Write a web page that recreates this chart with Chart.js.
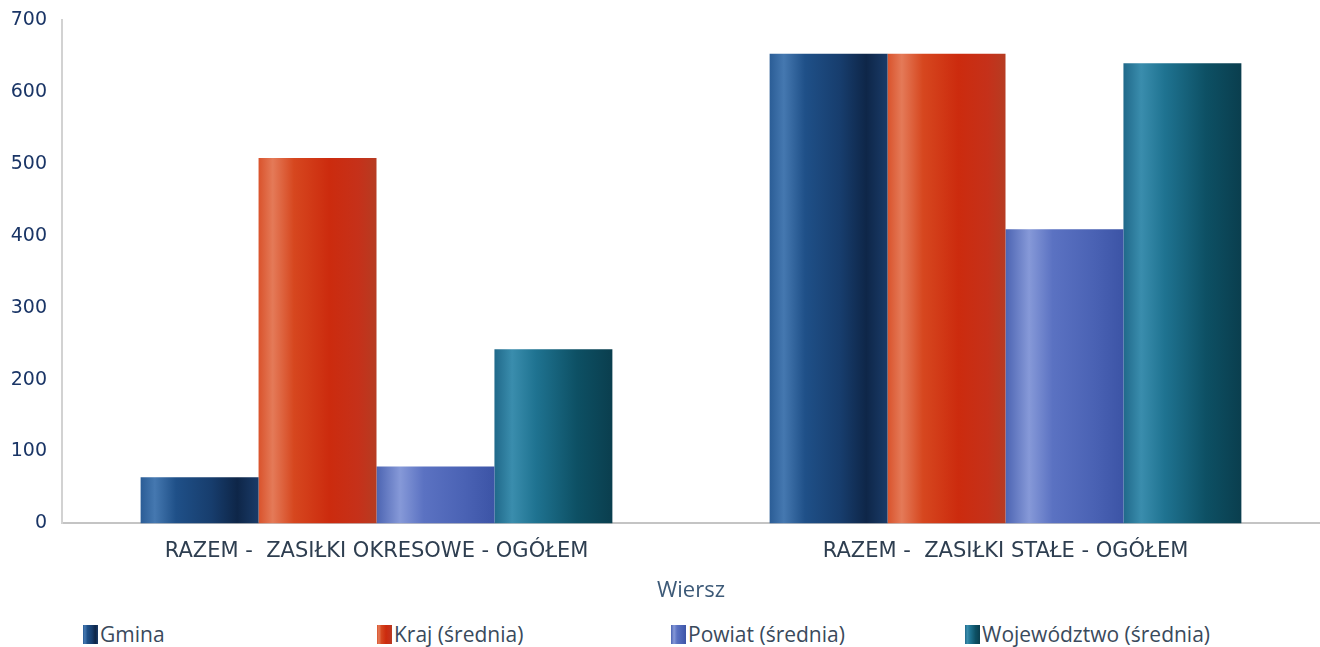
<!DOCTYPE html>
<html lang="pl">
<head>
<meta charset="utf-8">
<title>Zasiłki</title>
<script src="https://cdn.jsdelivr.net/npm/chart.js@4.4.1/dist/chart.umd.min.js"></script>
<style>
  html, body { margin: 0; padding: 0; background: #fff; }
  #wrap { position: relative; width: 1320px; height: 647px; }
  #chartBox { position: absolute; left: 0; top: 0; width: 1320px; height: 604px; }
  #legenda {
    position: absolute; left: 83px; top: 620px;
    display: flex; font-family: "Open Sans", sans-serif; font-size: 21px; color: #3a4a5c;
  }
  #legenda .item { display: flex; align-items: center; width: 294px; }
  #legenda .box { width: 15px; height: 19px; margin-right: 2px; }
</style>
</head>
<body>
<div id="wrap">
  <div id="chartBox"><canvas id="wykres"></canvas></div>
  <div id="legenda"></div>
</div>
<script>
const kategorie = ['RAZEM -  ZASIŁKI OKRESOWE - OGÓŁEM', 'RAZEM -  ZASIŁKI STAŁE - OGÓŁEM'];
const serie = ['Gmina', 'Kraj (średnia)', 'Powiat (średnia)', 'Województwo (średnia)'];
const gmina = [64, 653];
const kraj = [508, 653];
const powiat = [79, 409];
const wojewodztwo = [242, 640];
const osY = [0, 100, 200, 300, 400, 500, 600, 700];

// walcowe cieniowanie slupkow - przystanki gradientu dla kazdej serii
const cieniowanie = [
  [[0, '#2b5d96'], [0.12, '#4578b0'], [0.3, '#1f5088'], [0.6, '#173d6d'], [0.82, '#0e2648'], [1, '#1a3b68']],
  [[0, '#d9532c'], [0.12, '#e47a58'], [0.3, '#d6471f'], [0.6, '#cc2b0e'], [0.85, '#c5311a'], [1, '#b63c22']],
  [[0, '#4c64b2'], [0.2, '#8699d8'], [0.4, '#5b72c2'], [0.75, '#4a62b4'], [1, '#3c54a6']],
  [[0, '#20698a'], [0.15, '#3a8dad'], [0.35, '#1f7391'], [0.7, '#0d5064'], [1, '#0a3e4e']]
];

const wartosci = [gmina, kraj, powiat, wojewodztwo];

// opcje slupkow sa wspoldzielone, wiec kazdy dostaje wlasna kopie z gradientem
const cylinder = {
  id: 'cylinder',
  beforeDatasetsDraw(chart) {
    const ctx = chart.ctx;
    chart.data.datasets.forEach((ds, i) => {
      const meta = chart.getDatasetMeta(i);
      meta.data.forEach(bar => {
        const x0 = bar.x - bar.width / 2;
        const g = ctx.createLinearGradient(x0, 0, x0 + bar.width, 0);
        cieniowanie[i].forEach(([p, c]) => g.addColorStop(p, c));
        bar.options = Object.assign({}, bar.options, { backgroundColor: g });
      });
    });
  }
};

const ctx = document.getElementById('wykres').getContext('2d');

new Chart(ctx, {
  type: 'bar',
  data: {
    labels: kategorie,
    datasets: serie.map((nazwa, i) => ({
      label: nazwa,
      data: wartosci[i],
      backgroundColor: cieniowanie[i][2][1],
      borderWidth: 0,
      categoryPercentage: 0.75,
      barPercentage: 1
    }))
  },
  options: {
    responsive: true,
    maintainAspectRatio: false,
    animation: false,
    layout: { padding: { top: 20, right: 0, left: 0, bottom: 0 } },
    plugins: {
      legend: { display: false },
      tooltip: { enabled: false }
    },
    scales: {
      x: {
        grid: { display: false },
        border: { color: '#c4c4c4', width: 2 },
        ticks: {
          color: '#2e3e50',
          font: { family: 'DejaVu Sans', size: 21 },
          padding: 8
        },
        title: {
          display: true,
          text: 'Wiersz',
          color: '#3d5a78',
          font: { family: 'Open Sans', size: 22 },
          padding: { top: 5, bottom: 0 }
        }
      },
      y: {
        min: 0,
        max: 700,
        afterBuildTicks: (scale) => { scale.ticks = osY.map(v => ({ value: v })); },
        afterFit: (scale) => { scale.width = 62; },
        grid: { display: false },
        border: { color: '#d2d2d2', width: 2 },
        ticks: {
          color: '#1a3566',
          font: { family: 'DejaVu Sans', size: 19 },
          padding: 7
        }
      }
    }
  },
  plugins: [cylinder]
});

// legenda pod wykresem
const legenda = document.getElementById('legenda');
serie.forEach((nazwa, i) => {
  const stopy = cieniowanie[i].map(([p, c]) => `${c} ${p * 100}%`).join(', ');
  const item = document.createElement('div');
  item.className = 'item';
  item.innerHTML = `<span class="box" style="background: linear-gradient(to right, ${stopy})"></span><span>${nazwa}</span>`;
  legenda.appendChild(item);
});
</script>
</body>
</html>
